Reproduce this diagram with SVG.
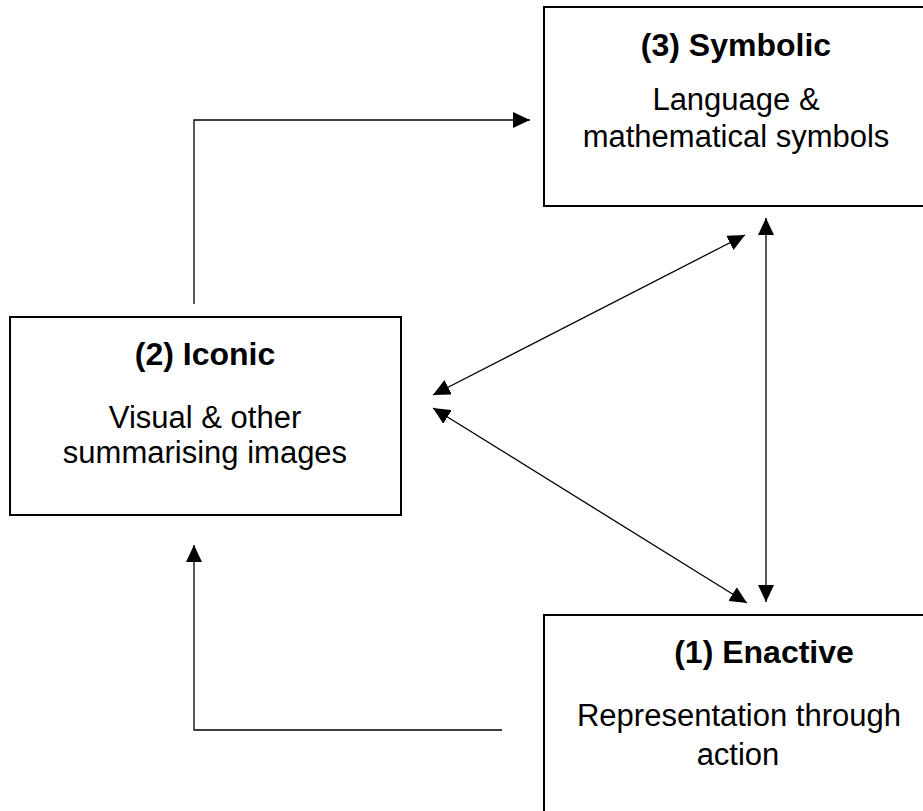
<svg xmlns="http://www.w3.org/2000/svg" width="923" height="811" viewBox="0 0 923 811">
<style>
.box{fill:#fff;stroke:#000;stroke-width:2}
.ln{fill:none;stroke:#000;stroke-width:1.3}
text{font-family:"Liberation Sans",Arial,sans-serif;font-size:31px;fill:#000;text-anchor:middle}
.b{font-weight:bold;font-size:32px}
</style>
<defs>
<marker id="ah" markerUnits="userSpaceOnUse" markerWidth="17" markerHeight="16" refX="17" refY="8" orient="auto-start-reverse" viewBox="0 0 17 16">
<path d="M0,0 L17,8 L0,16 z" fill="#000"/>
</marker>
</defs>
<g id="connectors">
<path class="ln" d="M194,304 V120 H530" marker-end="url(#ah)"/>
<path class="ln" d="M502,730 H194 V545" marker-end="url(#ah)"/>
<line class="ln" x1="766" y1="218" x2="766" y2="602" marker-start="url(#ah)" marker-end="url(#ah)"/>
<line class="ln" x1="433" y1="395" x2="745" y2="235" marker-start="url(#ah)" marker-end="url(#ah)"/>
<line class="ln" x1="433" y1="408" x2="747" y2="603" marker-start="url(#ah)" marker-end="url(#ah)"/>
</g>
<g id="symbolic">
<rect class="box" x="544" y="7" width="400" height="199"/>
<text class="b" x="736" y="56">(3) Symbolic</text>
<text x="736" y="110">Language &amp;</text>
<text x="736" y="147">mathematical symbols</text>
</g>
<g id="iconic">
<rect class="box" x="10" y="317" width="391" height="198"/>
<text class="b" x="205" y="365">(2) Iconic</text>
<text x="205" y="428">Visual &amp; other</text>
<text x="205" y="463">summarising images</text>
</g>
<g id="enactive">
<rect class="box" x="544" y="615" width="400" height="220"/>
<text class="b" x="764" y="663">(1) Enactive</text>
<text x="739" y="726">Representation through</text>
<text x="738" y="765">action</text>
</g>
</svg>
